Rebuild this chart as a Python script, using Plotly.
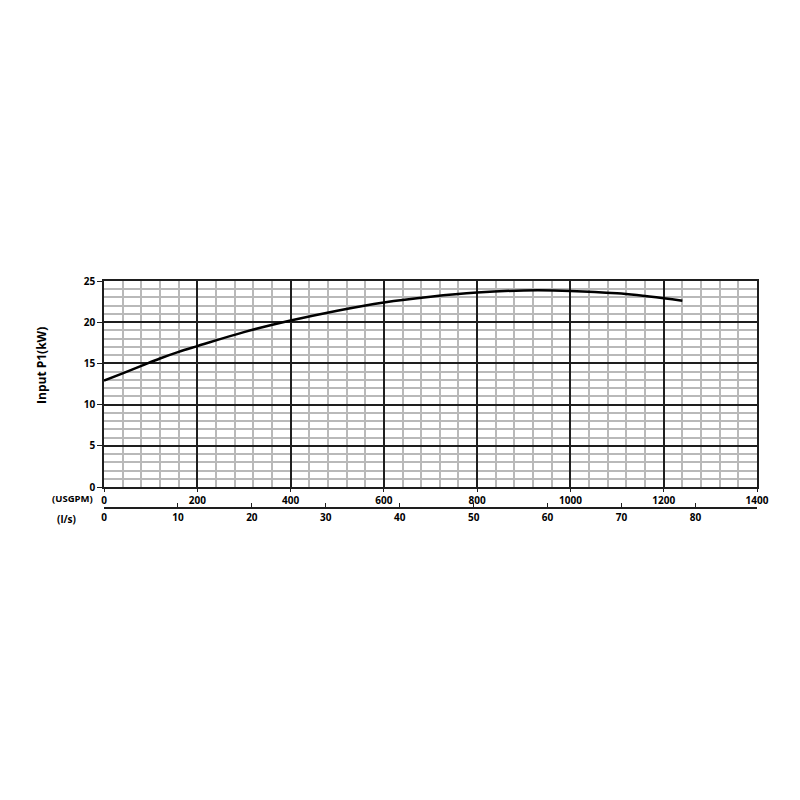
import plotly.graph_objects as go

# Flow (USGPM) and input power P1 (kW)
FLOW_USGPM = [0, 40, 80, 120, 160, 200, 300, 400, 500, 600, 700, 800, 900, 1000, 1100, 1200, 1240]
POWER_KW = [12.9, 13.8, 14.7, 15.6, 16.4, 17.1, 18.8, 20.2, 21.4, 22.4, 23.1, 23.6, 23.85, 23.8, 23.5, 22.9, 22.6]

USGPM_TICKS = [0, 200, 400, 600, 800, 1000, 1200, 1400]
LS_TICKS = [0, 10, 20, 30, 40, 50, 60, 70, 80]
KW_TICKS = [0, 5, 10, 15, 20, 25]

USGPM_PER_LS = 15.850
FONT = 'Open Sans'
MAJOR = 'rgb(30,30,30)'
MINOR = 'rgb(185,185,185)'

fig = go.Figure()

fig.add_trace(go.Scatter(x=FLOW_USGPM, y=POWER_KW, mode='lines',
                         line=dict(color='black', width=2.5, shape='spline'),
                         hoverinfo='skip', showlegend=False))

# invisible trace so the l/s axis is drawn
ls_max = USGPM_TICKS[-1] / USGPM_PER_LS
fig.add_trace(go.Scatter(x=[0, ls_max], y=[0, 0], xaxis='x2', mode='markers',
                         marker=dict(opacity=0), hoverinfo='skip', showlegend=False))

tick_font = dict(family=FONT, size=10, color='black', weight='bold')

# page body has an 8px margin, so the figure sits 8px in from the corner
fig.update_layout(
    width=800, height=800,
    paper_bgcolor='white', plot_bgcolor='white',
    margin=dict(l=96, r=51, t=273, b=300, autoexpand=False),
    showlegend=False,
    xaxis=dict(range=[0, 1400], tickvals=USGPM_TICKS, showgrid=True,
               gridcolor=MAJOR, gridwidth=1.5, zeroline=False,
               showline=True, linecolor=MAJOR, linewidth=1.5, mirror=True,
               ticks='outside', ticklen=3, tickcolor=MAJOR, tickfont=tick_font,
               anchor='y', automargin=False,
               minor=dict(dtick=40, showgrid=True, gridcolor=MINOR, gridwidth=1.5, ticks='')),
    xaxis2=dict(range=[0, ls_max], tickvals=LS_TICKS, showgrid=False, zeroline=False,
                overlaying='x', anchor='free', position=0, side='bottom',
                showline=True, linecolor=MAJOR, linewidth=1.5, automargin=False,
                ticks='inside', ticklen=4, tickcolor=MAJOR, tickfont=tick_font),
    yaxis=dict(range=[0, 25], tickvals=KW_TICKS, domain=[0.0925, 1],
               showgrid=True, gridcolor=MAJOR, gridwidth=1.5, zeroline=False,
               showline=True, linecolor=MAJOR, linewidth=1.5, mirror=True,
               ticks='outside', ticklen=5, tickcolor=MAJOR, tickfont=tick_font,
               automargin=False,
               minor=dict(dtick=1, showgrid=True, gridcolor=MINOR, gridwidth=1.5, ticks='')),
)

fig.add_annotation(text='Input P1(kW)', xref='paper', yref='paper', x=-0.095, y=0.63,
                   textangle=-90, xanchor='center', yanchor='middle', showarrow=False,
                   font=dict(family=FONT, size=12, color='black', weight='bold'))
fig.add_annotation(text='(USGPM)', xref='paper', yref='paper', x=-0.014, y=0.042,
                   xanchor='right', yanchor='middle', showarrow=False,
                   font=dict(family=FONT, size=9.5, color='black', weight='bold'))
fig.add_annotation(text='(l/s)', xref='paper', yref='paper', x=-0.04, y=-0.048,
                   xanchor='right', yanchor='middle', showarrow=False,
                   font=dict(family=FONT, size=10, color='black', weight='bold'))

fig.write_html('out.html')
